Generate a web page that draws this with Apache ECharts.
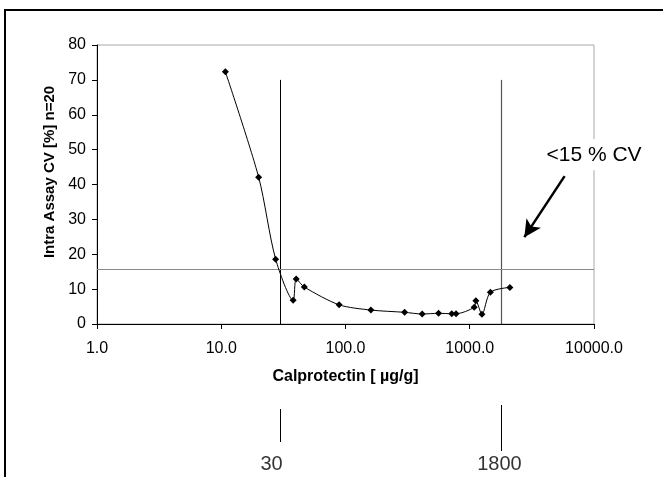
<!DOCTYPE html>
<html>
<head>
<meta charset="utf-8">
<script src="https://cdn.jsdelivr.net/npm/echarts@6/dist/echarts.min.js"></script>
<style>
html,body{margin:0;padding:0;background:#fff;}
#chart{width:663px;height:477px;}
</style>
</head>
<body>
<div id="chart"></div>
<script>
// ---- data ----
var concentrations = [10.8, 20.0, 27.4, 37.9, 40.1, 46.6, 88.9, 160, 299, 414, 561, 716, 776, 1086, 1120, 1254, 1465, 2103];
var cvValues       = [72.3, 42.1, 18.6, 6.8, 12.9, 10.6, 5.5, 4.0, 3.35, 2.87, 3.06, 2.96, 2.96, 4.8, 6.7, 2.8, 9.1, 10.5];
var rangeLimits    = [30, 1800];
var rangeLabels    = ['30', '1800'];
var limitTop       = 70;
var cvThreshold    = 15.6;
var annotationText = '<15 % CV';
var xTickValues    = [1, 10, 100, 1000, 10000];
var yTickMax       = 80;
var xTitle = 'Calprotectin [ \u00b5g/g]';
var yTitle = 'Intra Assay CV [%] n=20';

var chart = echarts.init(document.getElementById('chart'), null, {renderer: 'canvas'});
var FONT = 'Liberation Sans, Arial, sans-serif';

var seriesData = concentrations.map(function (c, i) { return [c, cvValues[i]]; });
var labelOffsets = [[-9, 0], [-2, 0]];

var option = {
  animation: false,
  backgroundColor: '#fff',
  textStyle: {fontFamily: FONT},
  graphic: [{
    type: 'rect', silent: true, z: 100,
    shape: {x: 5, y: 10, width: 720, height: 520},
    style: {fill: 'none', stroke: '#000', lineWidth: 2}
  }],
  grid: [
    {left: 97, top: 45, width: 497, height: 279, show: true, borderColor: '#a8a8a8', borderWidth: 1, backgroundColor: 'transparent'},
    {left: 97, top: 400, width: 497, height: 70, show: false}
  ],
  xAxis: [{
    gridIndex: 0, type: 'log', logBase: 10, min: xTickValues[0], max: xTickValues[xTickValues.length - 1],
    name: xTitle, nameLocation: 'middle', nameGap: 45,
    nameTextStyle: {fontFamily: FONT, fontSize: 16, fontWeight: 'bold', color: '#000'},
    axisLine: {show: true, lineStyle: {color: '#000', width: 1}},
    axisTick: {show: true, inside: false, length: 5, lineStyle: {color: '#000'}},
    minorTick: {show: false},
    splitLine: {show: false},
    axisLabel: {color: '#000', fontSize: 16, fontFamily: FONT, margin: 17,
      formatter: function (v) { return Number(v).toFixed(1); }}
  }, {
    gridIndex: 1, type: 'log', logBase: 10, min: xTickValues[0], max: xTickValues[xTickValues.length - 1], show: false
  }],
  yAxis: [{
    gridIndex: 0, type: 'value', min: 0, max: yTickMax, interval: 10,
    name: yTitle, nameLocation: 'middle', nameGap: 38,
    nameTextStyle: {fontFamily: FONT, fontSize: 15, fontWeight: 'bold', color: '#000', padding: [0, 0, 0, 25]},
    axisLine: {show: true, lineStyle: {color: '#000', width: 1}},
    axisTick: {show: true, inside: false, length: 5, lineStyle: {color: '#000'}},
    splitLine: {show: false},
    axisLabel: {color: '#000', fontSize: 16, fontFamily: FONT, margin: 11}
  }, {
    gridIndex: 1, type: 'value', min: 0, max: 70, inverse: true, show: false
  }],
  series: [{
    type: 'line',
    xAxisIndex: 0, yAxisIndex: 0,
    data: seriesData,
    smooth: 0.28,
    symbol: 'diamond', symbolSize: 7,
    itemStyle: {color: '#000'},
    lineStyle: {color: '#000', width: 1},
    clip: false,
    z: 5,
    markLine: {
      silent: true, symbol: ['none', 'none'], animation: false,
      label: {show: false},
      data: [
        [{coord: [rangeLimits[0], 0], lineStyle: {color: '#000', width: 1, type: 'solid'}}, {coord: [rangeLimits[0], limitTop]}],
        [{coord: [rangeLimits[1], 0], lineStyle: {color: '#555', width: 1.2, type: 'solid'}}, {coord: [rangeLimits[1], limitTop]}],
        [{coord: [xTickValues[0], cvThreshold], lineStyle: {color: '#8a8a8a', width: 1, type: 'solid'}}, {coord: [xTickValues[xTickValues.length - 1], cvThreshold]}],
        [{coord: [5800, 42.4], symbol: 'none', lineStyle: {color: '#000', width: 2.5, type: 'solid'}},
         {coord: [2750, 24.9], symbol: 'arrow', symbolSize: [13, 17]}]
      ]
    },
    markPoint: {
      silent: true, symbol: 'rect', symbolSize: 0,
      data: [{coord: [10000, 48.5],
        label: {show: true, position: 'inside', formatter: annotationText, color: '#000',
          fontSize: 21, fontFamily: FONT, backgroundColor: '#fff', padding: [5, 2, 5, 2]}}]
    }
  }, {
    type: 'scatter',
    xAxisIndex: 1, yAxisIndex: 1,
    data: rangeLimits.map(function (v, i) {
      return {value: [v, 64], name: rangeLabels[i], label: {offset: labelOffsets[i]}};
    }),
    symbolSize: 0,
    label: {show: true, position: 'inside', color: '#000', fontSize: 20, fontFamily: FONT,
      formatter: function (p) { return p.name; }},
    markLine: {
      silent: true, symbol: ['none', 'none'], label: {show: false},
      lineStyle: {color: '#000', width: 1, type: 'solid'},
      data: [
        [{coord: [rangeLimits[0], 9]}, {coord: [rangeLimits[0], 42]}],
        [{coord: [rangeLimits[1], 5]}, {coord: [rangeLimits[1], 51]}]
      ]
    }
  }]
};
chart.setOption(option);
</script>
</body>
</html>
